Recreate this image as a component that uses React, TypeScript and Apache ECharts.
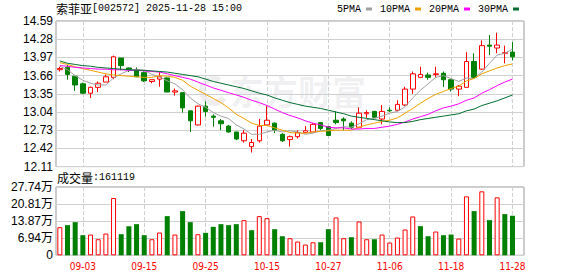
import React, { useEffect, useRef } from "react";
import * as echarts from "echarts";

// trading dates (MM-DD) — one per candle
const dates = [
  "08-29", "09-01", "09-02", "09-03", "09-04", "09-05", "09-08", "09-09", "09-10", "09-11",
  "09-12", "09-15", "09-16", "09-17", "09-18", "09-19", "09-22", "09-23", "09-24", "09-25",
  "09-26", "09-29", "09-30", "10-09", "10-10", "10-13", "10-14", "10-15", "10-16", "10-17",
  "10-20", "10-21", "10-22", "10-23", "10-24", "10-27", "10-28", "10-29", "10-30", "10-31",
  "11-03", "11-04", "11-05", "11-06", "11-07", "11-10", "11-11", "11-12", "11-13", "11-14",
  "11-17", "11-18", "11-19", "11-20", "11-21", "11-24", "11-25", "11-26", "11-27", "11-28",
];

// dates that carry an axis label
const labelDates = ["09-03", "09-15", "09-25", "10-15", "10-27", "11-06", "11-18", "11-28"];

// OHLC: open, close, low, high
const opens = [
  13.76, 13.80, 13.65, 13.52, 13.36, 13.46, 13.55, 13.63, 13.96, 13.79,
  13.76, 13.71, 13.56, 13.60, 13.62, 13.38, 13.37, 13.06, 12.82, 13.14,
  12.97, 12.89, 12.80, 12.70, 12.55, 12.45, 12.55, 12.82, 12.85, 12.66,
  12.57, 12.62, 12.69, 12.70, 12.86, 12.79, 12.90, 12.92, 12.85, 12.78,
  13.01, 13.05, 12.92, 13.07, 13.07, 13.16, 13.43, 13.63, 13.67, 13.68,
  13.70, 13.59, 13.43, 13.46, 13.90, 13.77, 14.18, 14.13, 14.04, 14.06,
];
const closes = [
  13.78, 13.68, 13.50, 13.36, 13.46, 13.53, 13.64, 13.98, 13.83, 13.76,
  13.64, 13.57, 13.59, 13.64, 13.38, 13.40, 13.11, 12.89, 13.14, 13.05,
  12.95, 12.84, 12.70, 12.58, 12.68, 12.52, 12.80, 12.90, 12.73, 12.55,
  12.62, 12.69, 12.72, 12.83, 12.76, 12.64, 12.86, 12.89, 12.78, 13.02,
  13.03, 12.95, 13.05, 13.06, 13.17, 13.43, 13.69, 13.68, 13.63, 13.69,
  13.59, 13.43, 13.48, 13.90, 13.63, 14.17, 14.16, 14.18, 14.05, 13.98,
];
const lows = [
  13.73, 13.59, 13.40, 13.35, 13.28, 13.38, 13.55, 13.60, 13.75, 13.72,
  13.64, 13.55, 13.53, 13.47, 13.38, 13.32, 13.03, 12.70, 12.81, 12.96,
  12.79, 12.73, 12.69, 12.56, 12.52, 12.35, 12.52, 12.82, 12.68, 12.53,
  12.45, 12.59, 12.68, 12.70, 12.73, 12.63, 12.83, 12.73, 12.75, 12.76,
  12.94, 12.94, 12.83, 13.04, 13.06, 13.14, 13.35, 13.63, 13.59, 13.63,
  13.47, 13.39, 13.31, 13.46, 13.61, 13.76, 14.01, 14.04, 13.87, 13.92,
];
const highs = [
  13.81, 13.84, 13.65, 13.54, 13.47, 13.56, 13.68, 14.00, 13.96, 13.80,
  13.80, 13.73, 13.59, 13.72, 13.63, 13.44, 13.37, 13.06, 13.15, 13.22,
  13.00, 12.92, 12.82, 12.70, 12.73, 12.58, 12.92, 13.14, 12.86, 12.68,
  12.64, 12.73, 12.80, 12.85, 12.87, 12.80, 13.05, 12.95, 12.88, 13.12,
  13.07, 13.06, 13.16, 13.12, 13.24, 13.47, 13.73, 13.81, 13.71, 13.81,
  13.73, 13.60, 13.50, 14.06, 14.04, 14.26, 14.35, 14.39, 14.17, 14.23,
];

const volumes = [
  114240, 122400, 134640, 81600, 84320, 65280, 88400, 232560, 85680, 118320,
  126480, 81600, 65280, 92480, 159120, 84320, 179520, 134640, 85680, 91120,
  115600, 126480, 122400, 126480, 142800, 102000, 159120, 150960, 106080, 77520,
  69360, 55760, 43520, 53040, 53040, 106080, 153680, 69360, 73440, 137360,
  65280, 65280, 84320, 51680, 72080, 104720, 157760, 118320, 77520, 96560,
  81600, 84320, 68000, 239360, 179520, 259760, 142800, 235280, 167280, 161119,
];

const ma5 = [
  13.82, 13.76, 13.66, 13.58, 13.53, 13.50, 13.50, 13.62, 13.69, 13.75,
  13.77, 13.75, 13.68, 13.64, 13.57, 13.52, 13.42, 13.28, 13.18, 13.12,
  13.03, 12.97, 12.93, 12.82, 12.75, 12.66, 12.66, 12.70, 12.73, 12.70,
  12.72, 12.70, 12.66, 12.68, 12.72, 12.73, 12.76, 12.79, 12.78, 12.84,
  12.91, 12.93, 12.97, 13.02, 13.05, 13.13, 13.28, 13.41, 13.52, 13.63,
  13.66, 13.61, 13.56, 13.62, 13.61, 13.72, 13.87, 14.01, 14.04, 14.11,
];
const ma10 = [
  13.88, 13.85, 13.81, 13.78, 13.75, 13.72, 13.69, 13.67, 13.66, 13.65,
  13.64, 13.63, 13.63, 13.66, 13.65, 13.63, 13.58, 13.48, 13.41, 13.34,
  13.27, 13.20, 13.11, 13.00, 12.93, 12.85, 12.81, 12.81, 12.77, 12.73,
  12.69, 12.68, 12.68, 12.70, 12.71, 12.72, 12.73, 12.73, 12.73, 12.78,
  12.82, 12.85, 12.88, 12.90, 12.94, 13.02, 13.10, 13.19, 13.27, 13.34,
  13.39, 13.44, 13.48, 13.57, 13.61, 13.69, 13.74, 13.79, 13.83, 13.86,
];
const ma20 = [
  13.83, 13.82, 13.80, 13.79, 13.78, 13.77, 13.77, 13.76, 13.76, 13.75,
  13.75, 13.74, 13.73, 13.72, 13.69, 13.66, 13.63, 13.60, 13.55, 13.50,
  13.45, 13.41, 13.37, 13.33, 13.29, 13.24, 13.20, 13.15, 13.09, 13.03,
  12.98, 12.94, 12.89, 12.85, 12.82, 12.78, 12.77, 12.77, 12.75, 12.75,
  12.76, 12.76, 12.78, 12.80, 12.83, 12.87, 12.92, 12.96, 13.00, 13.06,
  13.11, 13.14, 13.18, 13.24, 13.28, 13.36, 13.42, 13.49, 13.55, 13.60,
];
const ma30 = [
  13.91, 13.87, 13.85, 13.83, 13.82, 13.80, 13.79, 13.78, 13.77, 13.76,
  13.75, 13.75, 13.74, 13.73, 13.72, 13.70, 13.68, 13.66, 13.64, 13.60,
  13.56, 13.53, 13.50, 13.47, 13.44, 13.40, 13.36, 13.33, 13.28, 13.24,
  13.20, 13.17, 13.14, 13.12, 13.10, 13.07, 13.04, 13.01, 12.97, 12.95,
  12.93, 12.91, 12.89, 12.87, 12.86, 12.86, 12.88, 12.91, 12.93, 12.95,
  12.97, 12.99, 13.01, 13.06, 13.09, 13.15, 13.19, 13.23, 13.28, 13.33,
];

const priceMin = 12.11;
const priceMax = 14.59;
const priceStep = 0.31;
const volMax = 277400;
const volStep = 69350;
const volTickLabels = ["0", "6.94万", "13.87万", "20.81万", "27.74万"];

const maNames = ["5PMA", "10PMA", "20PMA", "30PMA"];
const maColors = ["#a0a0a0", "#f0a000", "#ff00ff", "#006e30"];
const maSeries = [ma5, ma10, ma20, ma30];

const title = "索菲亚";
const code = "[002572] 2025-11-28 15:00";
const volLabel = "成交量";
const lastVolume = 161119;

const UP = "#ff0000";
const DOWN = "#008000";
const GRID = "#d0d0d0";
const FRAME = "#999999";

export default function App() {
  const ref = useRef<HTMLDivElement>(null);

  useEffect(() => {
    document.body.style.margin = "0";
    const chart = echarts.init(ref.current as HTMLDivElement, null, { renderer: "svg" });

    const categories = [...dates, ""];
    const candleData = dates.map((_, i) => [opens[i], closes[i], lows[i], highs[i]]);
    const volData = volumes.map((v, i) => {
      const prev = i === 0 ? opens[0] : closes[i - 1];
      const up = closes[i] >= prev;
      return {
        value: v,
        itemStyle: up
          ? { color: "#ffffff", borderColor: UP, borderWidth: 1 }
          : { color: DOWN, borderColor: DOWN, borderWidth: 0 },
      };
    });

    const labelIdx = (index: number) => labelDates.indexOf(categories[index]) >= 0;

    const splitV = {
      show: true,
      interval: labelIdx,
      alignWithLabel: true,
      lineStyle: { color: GRID, type: "dashed" as const, width: 1 },
    };

    const richText = {
      fontWeight: "normal" as const,
      rich: {
        a: { fontFamily: "Noto Sans CJK SC", fontSize: 12, color: "#000", fontWeight: "normal" as const },
        b: { fontFamily: "Liberation Mono", fontSize: 10, color: "#000", fontWeight: "normal" as const },
      },
    };

    const option: any = {
      animation: false,
      backgroundColor: "#ffffff",
      title: [
        {
          left: 56,
          top: 2,
          padding: 0,
          text: `{a|${title}}{b|${code}}`,
          textStyle: richText,
        },
        {
          left: 57,
          top: 171,
          padding: 0,
          text: `{a|${volLabel}}{b|:${lastVolume}}`,
          textStyle: richText,
        },
      ],
      legend: {
        left: 337,
        top: 4,
        padding: 0,
        itemWidth: 6,
        itemHeight: 3,
        itemGap: 8,
        align: "right",
        icon: "rect",
        data: maNames,
        textStyle: { fontFamily: "Liberation Mono", fontSize: 10, color: "#000" },
      },
      graphic: [
        {
          type: "arc",
          silent: true,
          z: -1,
          shape: { cx: 214, cy: 91, r: 12, startAngle: 0.6, endAngle: 5.2 },
          style: { stroke: "rgba(20,20,60,0.07)", lineWidth: 6, fill: "none" },
        },
        {
          type: "text",
          silent: true,
          z: -1,
          left: 230,
          top: 73,
          style: {
            text: "东方财富",
            fontFamily: "Noto Sans CJK SC",
            fontSize: 34,
            fontWeight: "bold",
            fill: "rgba(20,20,60,0.07)",
          },
        },
      ],
      grid: [
        { left: 56, width: 468, top: 21, height: 145.6, show: true, borderColor: FRAME, borderWidth: 1 },
        { left: 56, width: 468, top: 187, height: 68.3, show: true, borderColor: FRAME, borderWidth: 1 },
      ],
      xAxis: [
        {
          type: "category",
          gridIndex: 0,
          data: categories,
          boundaryGap: true,
          axisLine: { show: false },
          axisTick: { show: false },
          axisLabel: { show: false },
          splitLine: splitV,
        },
        {
          type: "category",
          gridIndex: 1,
          data: categories,
          boundaryGap: true,
          axisLine: { show: false },
          axisTick: { show: false },
          axisLabel: {
            show: true,
            interval: labelIdx,
            color: "#ff0000",
            fontSize: 10,
            fontFamily: "'Liberation Sans Narrow', 'DejaVu Sans Condensed', 'Liberation Sans', sans-serif",
            margin: 6,
          },
          splitLine: splitV,
        },
      ],
      yAxis: [
        {
          type: "value",
          gridIndex: 0,
          min: priceMin,
          max: priceMax,
          interval: priceStep,
          axisLine: { show: false },
          axisTick: { show: false },
          axisLabel: {
            formatter: (v: number) => v.toFixed(2),
            fontSize: 12,
            fontFamily: "Liberation Sans",
            color: "#000",
            margin: 3,
          },
          splitLine: { lineStyle: { color: GRID } },
        },
        {
          type: "value",
          gridIndex: 1,
          min: 0,
          max: volMax,
          interval: volStep,
          axisLine: { show: false },
          axisTick: { show: false },
          axisLabel: {
            formatter: (v: number) => volTickLabels[Math.round(v / volStep)] ?? "",
            fontSize: 12,
            fontFamily: "Liberation Sans, Noto Sans CJK SC",
            color: "#000",
            margin: 3,
          },
          splitLine: { lineStyle: { color: GRID } },
        },
      ],
      series: [
        {
          type: "candlestick",
          name: "K",
          xAxisIndex: 0,
          yAxisIndex: 0,
          barWidth: 5,
          data: candleData,
          itemStyle: {
            color: "#ffffff",
            color0: DOWN,
            borderColor: UP,
            borderColor0: DOWN,
            borderWidth: 1,
          },
          z: 3,
        },
        ...maSeries.map((d, k) => ({
          type: "line",
          name: maNames[k],
          xAxisIndex: 0,
          yAxisIndex: 0,
          data: d,
          showSymbol: false,
          symbol: "none",
          color: maColors[k],
          lineStyle: { width: 1, color: maColors[k] },
          z: 4,
        })),
        {
          type: "bar",
          name: "VOL",
          xAxisIndex: 1,
          yAxisIndex: 1,
          barWidth: 5,
          data: volData,
        },
      ],
    };

    chart.setOption(option);
    return () => chart.dispose();
  }, []);

  return (
    <div style={{ position: "absolute", left: 0, top: 0 }}>
      <div ref={ref} style={{ width: 578, height: 276 }} />
    </div>
  );
}
